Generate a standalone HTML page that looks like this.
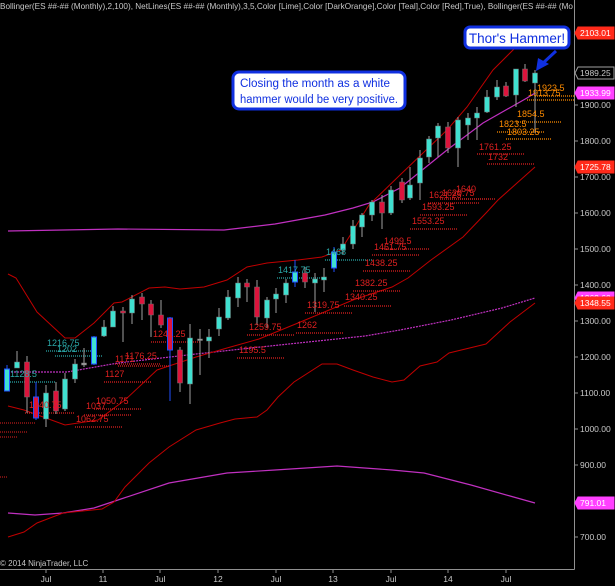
<!DOCTYPE html>
<html><head><meta charset="utf-8">
<style>
html,body{margin:0;padding:0;background:#000;}
svg{display:block;}
text{font-family:"Liberation Sans",sans-serif;}
</style></head>
<body>
<svg id="c" width="615" height="586" viewBox="0 0 615 586" xmlns="http://www.w3.org/2000/svg">
<rect width="615" height="586" fill="#000"/>
<g id="g"></g>
</svg>
<script>
var s='';
function pl(pts,col,w,dash){s+='<polyline fill="none" stroke="'+col+'" stroke-width="'+(w||1)+'"'+(dash?' stroke-dasharray="'+dash+'"':'')+' points="'+pts+'"/>';}
s+='<text x="0" y="9" font-size="8.5" fill="#c8c8c8" textLength="573" lengthAdjust="spacingAndGlyphs">Bollinger(ES ##-## (Monthly),2,100), NetLines(ES ##-## (Monthly),3,5,Color [Lime],Color [DarkOrange],Color [Teal],Color [Red],True), Bollinger(ES ##-## (Mo</text>';
pl("8,231 118,229 224,230 275,224 325,215 353,208 373,202 400,188 447,150 483,123 527,98 535,93","#c030c0",1.2);
pl("8,372 67,372 118,363 196,354 251,348 365,336 400,330 451,320 502,308 535,298","#c030c0",1.2,"2,1");
pl("8,513 35,515 63,513 94,508 118,500 169,483 227,473 275,470 337,466 392,470 424,473 471,485 510,496 535,503","#c030c0",1.2);
pl("8,274 16,278 37,312 65,338 75,338 94,323 114,303 122,302 149,288 165,287 180,289 204,287 227,280 247,267 267,263 298,260 322,257 341,250 369,205 400,175 447,130 467,107 493,70 515,48","#c00000",1);
pl("8,406 24,410 65,425 98,420 125,400 157,370 196,357 227,348 259,339 298,323 322,313 353,300 392,287 408,278 431,260 463,237 486,213 498,200 535,167","#c00000",1);
pl("8,537 24,532 37,523 63,513 102,509 114,502 125,487 149,463 169,447 196,430 220,423 235,419 257,417 267,410 278,397 294,382 322,364 337,364 353,370 373,377 392,382 404,380 420,366 437,362 449,353 486,344 510,322 535,303","#c00000",1);
var L=[["1216.75",47,346,46,95,351,"#2aa8a8"],["1202",57,352,55,103,356,"#2aa8a8"],["1128.5",10,377,8,55,382,"#2aa8a8"],
["1040.75",29,408,25,74,413,"#e02020"],["1062.75",76,422,75,123,427,"#e02020"],["1037",86,409,84,132,415,"#e02020"],["1050.75",96,404,94,142,409,"#e02020"],
["1127",105,377,104,152,382,"#e02020"],["1171",115,362,115,160,364,"#e02020"],["1176.25",125,359,118,170,366,"#e02020"],["1241.25",153,337,151,200,342,"#e02020"],
["1259.75",249,330,247,295,335,"#e02020"],["1262",297,328,296,344,333,"#e02020"],["1195.5",239,353,237,285,358,"#e02020"],["1319.75",307,308,305,353,313,"#e02020"],
["1340.25",345,300,344,392,306,"#e02020"],["1382.25",355,286,353,401,291,"#e02020"],["1438.25",365,266,363,411,271,"#e02020"],["1461.75",374,250,372,420,255,"#e02020"],
["1499.5",384,244,382,430,249,"#e02020"],["1553.25",412,224,410,458,229,"#e02020"],["1593.25",422,210,420,468,215,"#e02020"],
["1417.75",278,273,277,325,278,"#2aa8a8"],["1468",326,255,325,373,260,"#2aa8a8"],
["1621.25",429,198,428,480,203,"#e02020"],["1629.75",442,196,440,490,199,"#e02020"],["1640",456,192,450,495,199,"#e02020"],
["1761.25",479,150,477,525,154,"#e02020"],["1732",488,160,487,535,164,"#e02020"],
["1823.5",499,127,497,545,132,"#ff8c00"],["1803.25",507,135,506,552,139,"#ff8c00"],["1854.5",517,117,516,562,122,"#ff8c00"],
["1923.5",537,91,535,575,96,"#ff8c00"],["1913.75",528,96,527,575,100,"#ff8c00"]];
[[0,35,423],[0,28,432],[0,18,437],[0,8,477]].forEach(function(a){s+='<line x1="'+a[0]+'" x2="'+a[1]+'" y1="'+a[2]+'" y2="'+a[2]+'" stroke="#e02020" stroke-dasharray="1,1"/>';});
var T='';
L.forEach(function(a){s+='<line x1="'+a[3]+'" x2="'+a[4]+'" y1="'+a[5]+'" y2="'+a[5]+'" stroke="'+a[6]+'" stroke-dasharray="1,1" stroke-width="1.2"/>';
T+='<text x="'+a[1]+'" y="'+a[2]+'" font-size="9" fill="'+a[6]+'">'+a[0]+'</text>';});
var C=[[7,391,369,365,391,"ub"],[17,368,362,351,368,"u"],[27,362,397,356,413,"d"],[36,397,418,382,420,"db"],[46,419,393,385,427,"u"],[56,391,411,382,414,"d"],
[65,409,379,373,411,"u"],[75,379,364,359,383,"u"],[84,363,365,348,367,"n"],[94,364,337,336,365,"ub"],[104,336,327,320,337,"u"],[113,327,311,306,327,"u"],
[123,311,313,307,342,"d"],[132,313,299,295,324,"u"],[142,297,304,293,320,"d"],[151,304,315,300,337,"d"],[161,315,325,300,328,"d"],[170,318,350,317,401,"db"],
[180,350,383,347,392,"d"],[190,384,338,324,404,"u"],[200,339,340,329,375,"n"],[209,341,337,329,358,"u"],[219,329,317,308,336,"u"],[228,318,297,290,320,"u"],
[238,298,283,277,307,"u"],[247,283,287,279,302,"d"],[257,287,317,280,325,"d"],[267,318,300,297,328,"u"],[276,299,294,288,313,"u"],[286,295,283,279,303,"u"],
[295,282,272,260,287,"ub"],[305,273,282,267,288,"d"],[315,283,279,273,312,"u"],[324,280,277,268,292,"u"],[334,268,252,247,272,"ub"],[343,250,244,237,254,"u"],
[353,244,226,220,249,"u"],[362,227,215,213,237,"u"],[372,215,202,200,221,"u"],[382,202,213,195,229,"d"],[391,213,190,186,215,"u"],[402,182,200,178,203,"d"],
[410,198,185,167,200,"u"],[420,183,158,150,200,"u"],[429,157,139,136,163,"u"],[438,138,126,123,157,"u"],[448,127,148,122,153,"d"],[458,148,120,117,167,"u"],
[468,125,118,113,140,"u"],[477,118,113,107,140,"u"],[487,112,97,90,113,"u"],[497,97,87,80,100,"u"],[506,86,96,82,97,"d"],[516,95,69,69,107,"u"],
[525,69,81,64,82,"d"],[535,83,73,70,133,"u"]];
C.forEach(function(c){var x=c[0],t=Math.min(c[1],c[2]),b=Math.max(c[1],c[2]),h=Math.max(b-t,1.5);
var up=c[5][0]=='u',dj=c[5][0]=='n',bl=c[5].length>1;
var wc=bl?"#2050ff":"#a0a0a0";
s+='<line x1="'+x+'" x2="'+x+'" y1="'+c[3]+'" y2="'+c[4]+'" stroke="'+wc+'" stroke-width="1"/>';
var f=dj?"#a0a0a0":(up?"#40e0d0":"#dc143c");
s+='<rect x="'+(x-2.5)+'" y="'+t+'" width="5" height="'+h+'" fill="'+f+'" stroke="'+(bl?"#2050ff":"#707070")+'" stroke-width="'+(bl?1:0.5)+'"/>';});
s+=T;
s+='<line x1="574.5" y1="0" x2="574.5" y2="569.5" stroke="#909090"/><line x1="0" y1="569.5" x2="574.5" y2="569.5" stroke="#909090"/>';
for(var p=700;p<=1900;p+=100){var y=105+(1900-p)*0.36;s+='<line x1="574" x2="578" y1="'+y+'" y2="'+y+'" stroke="#909090"/>';
s+='<text x="580" y="'+(y+3)+'" font-size="8.5" fill="#c8c8c8">'+p+'.00</text>';}
var X=[[46,"Jul"],[103,"11"],[160,"Jul"],[218,"12"],[276,"Jul"],[333,"13"],[391,"Jul"],[448,"14"],[506,"Jul"]];
X.forEach(function(a){s+='<line x1="'+a[0]+'" x2="'+a[0]+'" y1="569" y2="573" stroke="#909090"/><text x="'+a[0]+'" y="582" font-size="8.5" fill="#c8c8c8" text-anchor="middle">'+a[1]+'</text>';});
s+='<text x="0" y="566" font-size="8" fill="#c8c8c8">© 2014 NinjaTrader, LLC</text>';
function box(y,txt,bg,fg,bd){s+='<path d="M575,'+y+' L578,'+(y-6)+' L614,'+(y-6)+' L614,'+(y+6)+' L578,'+(y+6)+' Z" fill="'+bg+'" stroke="'+(bd||bg)+'"/><text x="580" y="'+(y+3)+'" font-size="8.5" fill="'+fg+'">'+txt+'</text>';}
box(33,"2103.01","#ff2a1a","#fff");box(73,"1989.25","#000","#c8c8c8","#a0a0a0");box(93,"1933.99","#ff40ff","#fff");
box(167,"1725.78","#ff2a1a","#fff");box(298,"1362.60","#ff40ff","#fff");box(303,"1348.55","#ff2a1a","#fff");box(503,"791.01","#ff40ff","#fff");
s+='<rect x="465" y="27" width="104" height="21" rx="5" fill="#fff" stroke="#1030e0" stroke-width="3"/><text x="517" y="43" font-size="13.5" fill="#1030e0" text-anchor="middle">Thor\'s Hammer!</text>';
s+='<line x1="556" y1="51" x2="542" y2="64" stroke="#1030e0" stroke-width="3"/><polygon points="536,71 538,58 549,64" fill="#1030e0"/>';
s+='<rect x="233" y="72" width="172" height="37" rx="6" fill="#fff" stroke="#1030e0" stroke-width="3"/><text x="240" y="87" font-size="11.5" fill="#1030e0" textLength="150" lengthAdjust="spacingAndGlyphs">Closing the month as a white</text><text x="240" y="103" font-size="11.5" fill="#1030e0" textLength="158" lengthAdjust="spacingAndGlyphs">hammer would be very positive.</text>';
document.getElementById('g').innerHTML=s;
</script>
</body></html>
